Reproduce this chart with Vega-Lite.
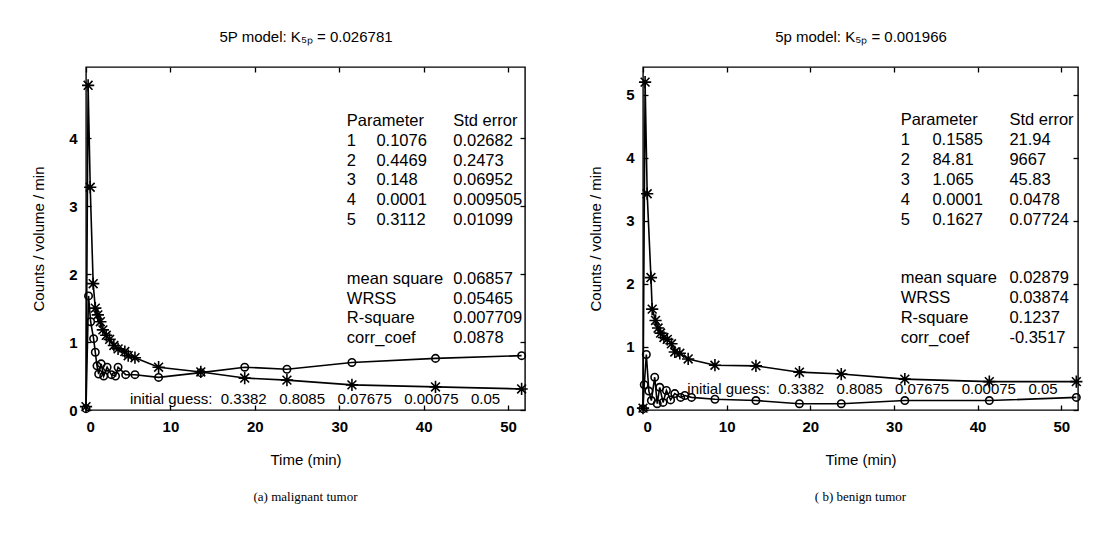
{
  "$schema": "https://vega.github.io/schema/vega-lite/v6.json",
  "background": "white",
  "padding": {"left": 30, "top": 28, "right": 10, "bottom": 10},
  "datasets": {
    "series": [
      {"panel": "a", "series": "star", "t": 0, "v": 0.05},
      {"panel": "a", "series": "star", "t": 0.25, "v": 4.78},
      {"panel": "a", "series": "star", "t": 0.5, "v": 3.28},
      {"panel": "a", "series": "star", "t": 0.85, "v": 1.86},
      {"panel": "a", "series": "star", "t": 1.1, "v": 1.5},
      {"panel": "a", "series": "star", "t": 1.4, "v": 1.4},
      {"panel": "a", "series": "star", "t": 1.7, "v": 1.3},
      {"panel": "a", "series": "star", "t": 2.0, "v": 1.18},
      {"panel": "a", "series": "star", "t": 2.4, "v": 1.1},
      {"panel": "a", "series": "star", "t": 2.8, "v": 1.04},
      {"panel": "a", "series": "star", "t": 3.3, "v": 0.95},
      {"panel": "a", "series": "star", "t": 3.8, "v": 0.9},
      {"panel": "a", "series": "star", "t": 4.6, "v": 0.86},
      {"panel": "a", "series": "star", "t": 5.0, "v": 0.8},
      {"panel": "a", "series": "star", "t": 5.8, "v": 0.77},
      {"panel": "a", "series": "star", "t": 8.6, "v": 0.63},
      {"panel": "a", "series": "star", "t": 13.6, "v": 0.56},
      {"panel": "a", "series": "star", "t": 18.8, "v": 0.47},
      {"panel": "a", "series": "star", "t": 23.8, "v": 0.44},
      {"panel": "a", "series": "star", "t": 31.5, "v": 0.37},
      {"panel": "a", "series": "star", "t": 41.4, "v": 0.34},
      {"panel": "a", "series": "star", "t": 51.6, "v": 0.31},
      {"panel": "a", "series": "circle", "t": 0, "v": 0.02},
      {"panel": "a", "series": "circle", "t": 0.3, "v": 1.68},
      {"panel": "a", "series": "circle", "t": 0.55, "v": 1.3},
      {"panel": "a", "series": "circle", "t": 0.9, "v": 1.05},
      {"panel": "a", "series": "circle", "t": 1.1, "v": 0.85},
      {"panel": "a", "series": "circle", "t": 1.3, "v": 0.65},
      {"panel": "a", "series": "circle", "t": 1.5, "v": 0.53},
      {"panel": "a", "series": "circle", "t": 1.8, "v": 0.68},
      {"panel": "a", "series": "circle", "t": 2.1, "v": 0.5},
      {"panel": "a", "series": "circle", "t": 2.5, "v": 0.63},
      {"panel": "a", "series": "circle", "t": 3.0, "v": 0.52},
      {"panel": "a", "series": "circle", "t": 3.5, "v": 0.5},
      {"panel": "a", "series": "circle", "t": 3.8, "v": 0.63},
      {"panel": "a", "series": "circle", "t": 4.7, "v": 0.52},
      {"panel": "a", "series": "circle", "t": 5.8, "v": 0.52},
      {"panel": "a", "series": "circle", "t": 8.6, "v": 0.48},
      {"panel": "a", "series": "circle", "t": 13.6, "v": 0.55},
      {"panel": "a", "series": "circle", "t": 18.8, "v": 0.63},
      {"panel": "a", "series": "circle", "t": 23.8, "v": 0.6},
      {"panel": "a", "series": "circle", "t": 31.5, "v": 0.7},
      {"panel": "a", "series": "circle", "t": 41.4, "v": 0.76},
      {"panel": "a", "series": "circle", "t": 51.6, "v": 0.8},
      {"panel": "b", "series": "star", "t": 0, "v": 0.03},
      {"panel": "b", "series": "star", "t": 0.25, "v": 5.2},
      {"panel": "b", "series": "star", "t": 0.5, "v": 3.43},
      {"panel": "b", "series": "star", "t": 0.95, "v": 2.1},
      {"panel": "b", "series": "star", "t": 1.1, "v": 1.6},
      {"panel": "b", "series": "star", "t": 1.5, "v": 1.42},
      {"panel": "b", "series": "star", "t": 1.8, "v": 1.3},
      {"panel": "b", "series": "star", "t": 2.1, "v": 1.22},
      {"panel": "b", "series": "star", "t": 2.5, "v": 1.15},
      {"panel": "b", "series": "star", "t": 2.9, "v": 1.12},
      {"panel": "b", "series": "star", "t": 3.4, "v": 1.05},
      {"panel": "b", "series": "star", "t": 3.8, "v": 0.92},
      {"panel": "b", "series": "star", "t": 4.4, "v": 0.9},
      {"panel": "b", "series": "star", "t": 5.4, "v": 0.81},
      {"panel": "b", "series": "star", "t": 8.6, "v": 0.71},
      {"panel": "b", "series": "star", "t": 13.5, "v": 0.7},
      {"panel": "b", "series": "star", "t": 18.7, "v": 0.6},
      {"panel": "b", "series": "star", "t": 23.7, "v": 0.57},
      {"panel": "b", "series": "star", "t": 31.3, "v": 0.49},
      {"panel": "b", "series": "star", "t": 41.4, "v": 0.45},
      {"panel": "b", "series": "star", "t": 51.8, "v": 0.45},
      {"panel": "b", "series": "circle", "t": 0, "v": 0.02},
      {"panel": "b", "series": "circle", "t": 0.15, "v": 0.4},
      {"panel": "b", "series": "circle", "t": 0.4, "v": 0.88},
      {"panel": "b", "series": "circle", "t": 0.7, "v": 0.3},
      {"panel": "b", "series": "circle", "t": 1.0, "v": 0.15},
      {"panel": "b", "series": "circle", "t": 1.4, "v": 0.52},
      {"panel": "b", "series": "circle", "t": 1.7, "v": 0.1},
      {"panel": "b", "series": "circle", "t": 2.0, "v": 0.36},
      {"panel": "b", "series": "circle", "t": 2.4, "v": 0.12},
      {"panel": "b", "series": "circle", "t": 2.8, "v": 0.31},
      {"panel": "b", "series": "circle", "t": 3.3, "v": 0.16},
      {"panel": "b", "series": "circle", "t": 3.8, "v": 0.26},
      {"panel": "b", "series": "circle", "t": 4.5, "v": 0.2},
      {"panel": "b", "series": "circle", "t": 5.0, "v": 0.23},
      {"panel": "b", "series": "circle", "t": 5.8, "v": 0.2},
      {"panel": "b", "series": "circle", "t": 8.6, "v": 0.17},
      {"panel": "b", "series": "circle", "t": 13.5, "v": 0.15},
      {"panel": "b", "series": "circle", "t": 18.7, "v": 0.1},
      {"panel": "b", "series": "circle", "t": 23.7, "v": 0.1},
      {"panel": "b", "series": "circle", "t": 31.3, "v": 0.15},
      {"panel": "b", "series": "circle", "t": 41.4, "v": 0.15},
      {"panel": "b", "series": "circle", "t": 51.8, "v": 0.2}
    ],
    "notes": [
      {"panel": "a", "block": "pidx", "text": "Parameter\n1\n2\n3\n4\n5"},
      {"panel": "a", "block": "pval", "text": " \n0.1076\n0.4469\n0.148\n0.0001\n0.3112"},
      {"panel": "a", "block": "perr", "text": "Std error\n0.02682\n0.2473\n0.06952\n0.009505\n0.01099"},
      {"panel": "a", "block": "sname", "text": "mean square\nWRSS\nR-square\ncorr_coef"},
      {"panel": "a", "block": "sval", "text": "0.06857\n0.05465\n0.007709\n0.0878"},
      {"panel": "a", "block": "guess", "text": "initial guess:\u00a0\u00a00.3382\u00a0\u00a0\u00a00.8085\u00a0\u00a0\u00a00.07675\u00a0\u00a0\u00a00.00075\u00a0\u00a0\u00a00.05"},
      {"panel": "b", "block": "pidx", "text": "Parameter\n1\n2\n3\n4\n5"},
      {"panel": "b", "block": "pval", "text": " \n0.1585\n84.81\n1.065\n0.0001\n0.1627"},
      {"panel": "b", "block": "perr", "text": "Std error\n21.94\n9667\n45.83\n0.0478\n0.07724"},
      {"panel": "b", "block": "sname", "text": "mean square\nWRSS\nR-square\ncorr_coef"},
      {"panel": "b", "block": "sval", "text": "0.02879\n0.03874\n0.1237\n-0.3517"},
      {"panel": "b", "block": "guess", "text": "initial guess:\u00a0\u00a00.3382\u00a0\u00a0\u00a00.8085\u00a0\u00a0\u00a00.07675\u00a0\u00a0\u00a00.00075\u00a0\u00a0\u00a00.05"}
    ]
  },
  "spacing": 55,
  "hconcat": [
    {
      "width": 439,
      "height": 343,
      "title": {"text": "(a) malignant tumor", "orient": "bottom", "offset": 24},
      "resolve": {"axis": {"x": "independent", "y": "independent"}},
      "layer": [
        {
          "data": {"name": "series"},
          "transform": [{"filter": "datum.panel == 'a'"}],
          "mark": {"type": "line", "color": "black", "strokeWidth": 1.6},
          "encoding": {
            "x": {"field": "t", "type": "quantitative", "scale": {"domain": [0, 52], "nice": false, "zero": false},
                  "axis": {"orient": "bottom", "title": "Time (min)", "values": [0, 10, 20, 30, 40, 50], "titlePadding": 18}},
            "y": {"field": "v", "type": "quantitative", "scale": {"domain": [0, 5.05], "nice": false},
                  "axis": {"orient": "left", "title": "Counts / volume / min", "values": [0, 1, 2, 3, 4], "titlePadding": 22}},
            "detail": {"field": "series"}
          }
        },
        {
          "data": {"name": "series"},
          "transform": [{"filter": "datum.panel == 'a'"}],
          "mark": {"type": "point", "filled": false, "color": "black", "strokeWidth": 1.6, "opacity": 1},
          "encoding": {
            "x": {"field": "t", "type": "quantitative",
                  "axis": {"orient": "top", "labels": false, "title": "5P model: K\u2085\u209a = 0.026781", "values": [0, 10, 20, 30, 40, 50], "titlePadding": 22}},
            "y": {"field": "v", "type": "quantitative",
                  "axis": {"orient": "right", "labels": false, "title": null, "values": [0, 1, 2, 3, 4]}},
            "shape": {"field": "series", "type": "nominal", "legend": null,
                      "scale": {"domain": ["circle", "star"], "range": ["circle", "M-1,0L1,0M0,-1L0,1M-0.72,-0.72L0.72,0.72M-0.72,0.72L0.72,-0.72"]}},
            "size": {"field": "series", "type": "nominal", "legend": null,
                     "scale": {"domain": ["circle", "star"], "range": [55, 150]}}
          }
        },
        {
          "data": {"name": "notes"},
          "transform": [{"filter": "datum.panel == 'a' && datum.block == 'pidx'"}],
          "mark": {"type": "text", "align": "left", "baseline": "top", "fontSize": 16.5, "lineHeight": 19.7, "lineBreak": "\n", "color": "black"},
          "encoding": {"x": {"datum": 30.9, "type": "quantitative", "axis": null}, "y": {"datum": 4.37, "type": "quantitative", "axis": null}, "text": {"field": "text"}}
        },
        {
          "data": {"name": "notes"},
          "transform": [{"filter": "datum.panel == 'a' && datum.block == 'pval'"}],
          "mark": {"type": "text", "align": "left", "baseline": "top", "fontSize": 16.5, "lineHeight": 19.7, "lineBreak": "\n", "color": "black"},
          "encoding": {"x": {"datum": 34.4, "type": "quantitative", "axis": null}, "y": {"datum": 4.37, "type": "quantitative", "axis": null}, "text": {"field": "text"}}
        },
        {
          "data": {"name": "notes"},
          "transform": [{"filter": "datum.panel == 'a' && datum.block == 'perr'"}],
          "mark": {"type": "text", "align": "left", "baseline": "top", "fontSize": 16.5, "lineHeight": 19.7, "lineBreak": "\n", "color": "black"},
          "encoding": {"x": {"datum": 43.5, "type": "quantitative", "axis": null}, "y": {"datum": 4.37, "type": "quantitative", "axis": null}, "text": {"field": "text"}}
        },
        {
          "data": {"name": "notes"},
          "transform": [{"filter": "datum.panel == 'a' && datum.block == 'sname'"}],
          "mark": {"type": "text", "align": "left", "baseline": "top", "fontSize": 16.5, "lineHeight": 19.5, "lineBreak": "\n", "color": "black"},
          "encoding": {"x": {"datum": 30.9, "type": "quantitative", "axis": null}, "y": {"datum": 2.04, "type": "quantitative", "axis": null}, "text": {"field": "text"}}
        },
        {
          "data": {"name": "notes"},
          "transform": [{"filter": "datum.panel == 'a' && datum.block == 'sval'"}],
          "mark": {"type": "text", "align": "left", "baseline": "top", "fontSize": 16.5, "lineHeight": 19.5, "lineBreak": "\n", "color": "black"},
          "encoding": {"x": {"datum": 43.5, "type": "quantitative", "axis": null}, "y": {"datum": 2.04, "type": "quantitative", "axis": null}, "text": {"field": "text"}}
        },
        {
          "data": {"name": "notes"},
          "transform": [{"filter": "datum.panel == 'a' && datum.block == 'guess'"}],
          "mark": {"type": "text", "align": "left", "baseline": "middle", "fontSize": 15, "color": "black"},
          "encoding": {"x": {"datum": 5.2, "type": "quantitative", "axis": null}, "y": {"datum": 0.16, "type": "quantitative", "axis": null}, "text": {"field": "text"}}
        }
      ]
    },
    {
      "width": 435,
      "height": 343,
      "title": {"text": "( b) benign tumor", "orient": "bottom", "offset": 24},
      "resolve": {"axis": {"x": "independent", "y": "independent"}},
      "layer": [
        {
          "data": {"name": "series"},
          "transform": [{"filter": "datum.panel == 'b'"}],
          "mark": {"type": "line", "color": "black", "strokeWidth": 1.6},
          "encoding": {
            "x": {"field": "t", "type": "quantitative", "scale": {"domain": [0, 52], "nice": false, "zero": false},
                  "axis": {"orient": "bottom", "title": "Time (min)", "values": [0, 10, 20, 30, 40, 50], "titlePadding": 18}},
            "y": {"field": "v", "type": "quantitative", "scale": {"domain": [0, 5.44], "nice": false},
                  "axis": {"orient": "left", "title": "Counts / volume / min", "values": [0, 1, 2, 3, 4, 5], "titlePadding": 22}},
            "detail": {"field": "series"}
          }
        },
        {
          "data": {"name": "series"},
          "transform": [{"filter": "datum.panel == 'b'"}],
          "mark": {"type": "point", "filled": false, "color": "black", "strokeWidth": 1.6, "opacity": 1},
          "encoding": {
            "x": {"field": "t", "type": "quantitative",
                  "axis": {"orient": "top", "labels": false, "title": "5p model:  K\u2085\u209a = 0.001966", "values": [0, 10, 20, 30, 40, 50], "titlePadding": 22}},
            "y": {"field": "v", "type": "quantitative",
                  "axis": {"orient": "right", "labels": false, "title": null, "values": [0, 1, 2, 3, 4, 5]}},
            "shape": {"field": "series", "type": "nominal", "legend": null,
                      "scale": {"domain": ["circle", "star"], "range": ["circle", "M-1,0L1,0M0,-1L0,1M-0.72,-0.72L0.72,0.72M-0.72,0.72L0.72,-0.72"]}},
            "size": {"field": "series", "type": "nominal", "legend": null,
                     "scale": {"domain": ["circle", "star"], "range": [55, 150]}}
          }
        },
        {
          "data": {"name": "notes"},
          "transform": [{"filter": "datum.panel == 'b' && datum.block == 'pidx'"}],
          "mark": {"type": "text", "align": "left", "baseline": "top", "fontSize": 16.5, "lineHeight": 20, "lineBreak": "\n", "color": "black"},
          "encoding": {"x": {"datum": 30.8, "type": "quantitative", "axis": null}, "y": {"datum": 4.73, "type": "quantitative", "axis": null}, "text": {"field": "text"}}
        },
        {
          "data": {"name": "notes"},
          "transform": [{"filter": "datum.panel == 'b' && datum.block == 'pval'"}],
          "mark": {"type": "text", "align": "left", "baseline": "top", "fontSize": 16.5, "lineHeight": 20, "lineBreak": "\n", "color": "black"},
          "encoding": {"x": {"datum": 34.6, "type": "quantitative", "axis": null}, "y": {"datum": 4.73, "type": "quantitative", "axis": null}, "text": {"field": "text"}}
        },
        {
          "data": {"name": "notes"},
          "transform": [{"filter": "datum.panel == 'b' && datum.block == 'perr'"}],
          "mark": {"type": "text", "align": "left", "baseline": "top", "fontSize": 16.5, "lineHeight": 20, "lineBreak": "\n", "color": "black"},
          "encoding": {"x": {"datum": 43.8, "type": "quantitative", "axis": null}, "y": {"datum": 4.73, "type": "quantitative", "axis": null}, "text": {"field": "text"}}
        },
        {
          "data": {"name": "notes"},
          "transform": [{"filter": "datum.panel == 'b' && datum.block == 'sname'"}],
          "mark": {"type": "text", "align": "left", "baseline": "top", "fontSize": 16.5, "lineHeight": 20, "lineBreak": "\n", "color": "black"},
          "encoding": {"x": {"datum": 30.8, "type": "quantitative", "axis": null}, "y": {"datum": 2.22, "type": "quantitative", "axis": null}, "text": {"field": "text"}}
        },
        {
          "data": {"name": "notes"},
          "transform": [{"filter": "datum.panel == 'b' && datum.block == 'sval'"}],
          "mark": {"type": "text", "align": "left", "baseline": "top", "fontSize": 16.5, "lineHeight": 20, "lineBreak": "\n", "color": "black"},
          "encoding": {"x": {"datum": 43.8, "type": "quantitative", "axis": null}, "y": {"datum": 2.22, "type": "quantitative", "axis": null}, "text": {"field": "text"}}
        },
        {
          "data": {"name": "notes"},
          "transform": [{"filter": "datum.panel == 'b' && datum.block == 'guess'"}],
          "mark": {"type": "text", "align": "left", "baseline": "middle", "fontSize": 15, "color": "black"},
          "encoding": {"x": {"datum": 5.3, "type": "quantitative", "axis": null}, "y": {"datum": 0.33, "type": "quantitative", "axis": null}, "text": {"field": "text"}}
        }
      ]
    }
  ],
  "config": {
    "font": "Liberation Sans",
    "view": {"stroke": "black", "strokeWidth": 1.4},
    "axis": {
      "domain": false, "grid": false, "ticks": true, "tickColor": "black", "tickSize": -5, "tickWidth": 1.3,
      "labelColor": "black", "labelFont": "Liberation Sans", "labelFontSize": 15, "labelFontWeight": "bold", "labelPadding": 14,
      "titleColor": "black", "titleFont": "Liberation Sans", "titleFontSize": 15, "titleFontWeight": "normal"
    },
    "title": {"font": "Liberation Serif", "fontSize": 13, "fontWeight": "normal", "color": "black", "anchor": "middle"}
  }
}
